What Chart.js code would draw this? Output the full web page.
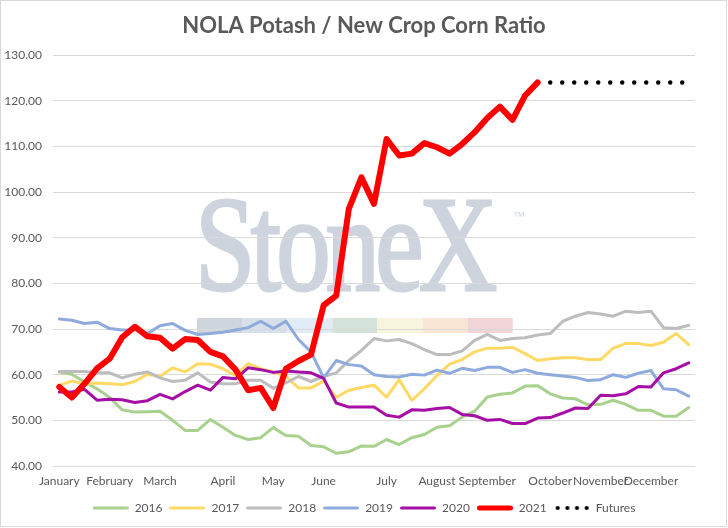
<!DOCTYPE html>
<html>
<head>
<meta charset="utf-8">
<title>NOLA Potash / New Crop Corn Ratio</title>
<script src="https://cdn.jsdelivr.net/npm/chart.js@4.4.1/dist/chart.umd.min.js"></script>
<style>
  html, body { margin: 0; padding: 0; background: #fff; }
</style>
</head>
<body>
<canvas id="chartRatio" width="728" height="528"></canvas>
<script>
// weekly ratio, 51 weeks, month name shown on first week of the month
const monthNames = ["January", "February", "March", "April", "May", "June",
  "July", "August", "September", "October", "November", "December"];
const monthFirstWeek = [0, 4, 8, 13, 17, 21, 26, 30, 34, 39, 43, 47];
const weekCount = 51;

const y2016 = [60.6, 60.1, 58.4, 56.9, 55.0, 52.3, 51.8, 51.9, 52.0, 50.0, 47.8, 47.8, 50.2,
  48.5, 46.7, 45.8, 46.2, 48.4, 46.7, 46.5, 44.5, 44.2, 42.8, 43.1, 44.4, 44.3,
  45.8, 44.7, 46.2, 46.9, 48.5, 48.8, 50.7, 52.0, 55.1, 55.7, 56.0, 57.5, 57.6,
  55.8, 54.9, 54.7, 53.4, 53.5, 54.4, 53.5, 52.2, 52.2, 50.9, 50.9, 52.8];
const y2017 = [57.7, 58.6, 58.0, 58.2, 58.0, 57.8, 58.5, 60.1, 59.6, 61.5, 60.6, 62.4, 62.3,
  61.3, 59.8, 62.4, 61.3, 60.6, 59.6, 57.1, 57.1, 58.6, 55.0, 56.6, 57.2, 57.7,
  55.1, 58.9, 54.4, 56.9, 59.8, 62.3, 63.3, 65.0, 65.8, 65.8, 66.0, 64.6, 63.1,
  63.5, 63.7, 63.7, 63.3, 63.3, 65.8, 66.8, 66.8, 66.4, 67.1, 69.0, 66.6];
const y2018 = [60.7, 60.7, 60.7, 60.4, 60.4, 59.3, 60.1, 60.6, 59.3, 58.5, 58.8, 60.4, 58.4,
  58.0, 58.0, 58.8, 58.8, 57.0, 58.2, 59.6, 58.5, 59.6, 60.4, 63.1, 65.3, 67.9,
  67.4, 67.7, 66.8, 65.5, 64.4, 64.4, 65.2, 67.5, 68.8, 67.5, 67.9, 68.1, 68.7,
  69.0, 71.7, 72.8, 73.6, 73.3, 72.8, 73.9, 73.6, 73.9, 70.3, 70.1, 70.8];
const y2019 = [72.2, 71.9, 71.2, 71.5, 70.1, 69.8, 69.8, 69.0, 70.7, 71.2, 69.7, 68.8, 69.0,
  69.3, 69.8, 70.3, 71.7, 70.1, 71.7, 67.7, 65.0, 59.3, 63.1, 62.2, 61.9, 60.0,
  59.6, 59.5, 60.1, 59.9, 61.0, 60.3, 61.4, 60.9, 61.6, 61.6, 60.5, 61.1, 60.3,
  60.0, 59.7, 59.4, 58.7, 58.9, 60.0, 59.4, 60.3, 60.9, 56.9, 56.7, 55.3];
const y2020 = [56.2, 56.2, 56.8, 54.4, 54.6, 54.5, 53.9, 54.3, 55.7, 54.7, 56.3, 57.7, 56.6,
  59.4, 59.1, 61.5, 61.1, 60.5, 60.8, 60.6, 60.4, 59.2, 53.8, 52.9, 52.9, 52.9,
  51.1, 50.7, 52.3, 52.2, 52.6, 52.8, 51.3, 51.0, 50.0, 50.2, 49.3, 49.3, 50.5,
  50.6, 51.6, 52.7, 52.6, 55.5, 55.4, 55.8, 57.4, 57.3, 60.4, 61.3, 62.6];
const y2021 = [57.3, 55.0, 58.0, 61.4, 63.5, 68.2, 70.5, 68.4, 68.1, 65.7, 67.8, 67.6, 65.0,
  64.0, 61.1, 56.6, 57.1, 52.7, 61.3, 63.0, 64.4, 75.2, 77.3, 96.3, 103.2, 97.4,
  111.6, 108.0, 108.4, 110.7, 109.8, 108.4, 110.5, 113.1, 116.2, 118.7, 115.8, 121.1, 124.0,
  null, null, null, null, null, null, null, null, null, null, null, null];
const yFutures = [null, null, null, null, null, null, null, null, null, null, null, null, null,
  null, null, null, null, null, null, null, null, null, null, null, null, null,
  null, null, null, null, null, null, null, null, null, null, null, null, null,
  124.0, 124.0, 124.0, 124.0, 124.0, 124.0, 124.0, 124.0, 124.0, 124.0, 124.0, 124.0];

const yTicks = [40, 50, 60, 70, 80, 90, 100, 110, 120, 130];

// category labels: month name on its first week, blank otherwise
const weekLabels = [];
for (let i = 0; i < weekCount; i++) {
  const m = monthFirstWeek.indexOf(i);
  weekLabels.push(m >= 0 ? monthNames[m] : "");
}

const txtGray = "#595959";
const gridGray = "#D9D9D9";

// little legend samples (line or dots)
function legendSample(color, width, dotted) {
  const c = document.createElement("canvas");
  c.width = 36;
  c.height = 8;
  const g = c.getContext("2d");
  g.fillStyle = color;
  g.strokeStyle = color;
  if (dotted) {
    [4, 13.7, 23.3, 33].forEach((x) => {
      g.beginPath();
      g.arc(x, 4, 2.1, 0, Math.PI * 2);
      g.fill();
    });
  } else {
    g.lineWidth = width;
    g.lineCap = "round";
    g.beginPath();
    g.moveTo(width / 2, 4);
    g.lineTo(36 - width / 2, 4);
    g.stroke();
  }
  return c;
}

function serie(label, data, color, width, order) {
  return {
    label,
    data,
    borderColor: color,
    backgroundColor: color,
    borderWidth: width,
    pointRadius: 0,
    tension: 0,
    borderJoinStyle: "round",
    borderCapStyle: "round",
    spanGaps: false,
    order,
    sample: legendSample(color, width > 4 ? 5 : 3, false),
  };
}

const datasets = [
  serie("2016", y2016, "#A9D18E", 3, 7),
  serie("2017", y2017, "#FFD966", 3, 6),
  serie("2018", y2018, "#BDBDBD", 3, 5),
  serie("2019", y2019, "#8FAADC", 3, 4),
  serie("2020", y2020, "#A50FA5", 3, 3),
  serie("2021", y2021, "#FF0000", 6, 2),
  {
    label: "Futures",
    data: yFutures,
    borderColor: "#000000",
    backgroundColor: "#000000",
    borderWidth: 4.5,
    borderDash: [0, 12],
    borderCapStyle: "round",
    pointRadius: 0,
    tension: 0,
    order: 1,
    sample: legendSample("#000000", 4, true),
  },
];

// watermark + outer frame
const stonexMark = {
  id: "stonexMark",
  beforeDraw(chart) {
    const ctx = chart.ctx;
    ctx.save();
    ctx.fillStyle = "#ffffff";
    ctx.fillRect(0, 0, chart.width, chart.height);
    const band = ["#CFD5DD", "#D6DFEA", "#E2ECF6", "#D4E3DA", "#F7F5DE", "#F9E6D4", "#F0D4D7"];
    band.forEach((c, i) => {
      ctx.fillStyle = c;
      ctx.fillRect(197 + i * 45.1, 318, 45.1, 15);
    });
    ctx.fillStyle = "#CDD4DE";
    ctx.font = '12px "Liberation Sans"';
    ctx.fillText("\u2122", 513, 217);
    ctx.translate(195, 290);
    ctx.scale(0.8, 1);
    ctx.font = '136px "Liberation Serif"';
    ctx.textBaseline = "alphabetic";
    ctx.letterSpacing = "-6px";
    ctx.lineWidth = 3;
    ctx.strokeStyle = "#CDD4DE";
    ctx.strokeText("StoneX", 0, 0);
    ctx.fillText("StoneX", 0, 0);
    ctx.restore();
  },
  afterDraw(chart) {
    const ctx = chart.ctx;
    ctx.save();
    ctx.strokeStyle = gridGray;
    ctx.lineWidth = 1;
    ctx.strokeRect(0.5, 0.5, 726, 526);
    ctx.restore();
  },
};

new Chart(document.getElementById("chartRatio"), {
  type: "line",
  data: { labels: weekLabels, datasets },
  options: {
    responsive: false,
    devicePixelRatio: 1,
    animation: false,
    events: [],
    layout: { padding: { left: 0, right: 0, top: 0, bottom: 4 } },
    plugins: {
      title: {
        display: true,
        text: "NOLA Potash / New Crop Corn Ratio",
        color: txtGray,
        font: { family: "Lato", size: 22, weight: "bold" },
        padding: { top: 13, bottom: 15.6 },
      },
      legend: {
        position: "bottom",
        labels: {
          usePointStyle: true,
          pointStyleWidth: 36,
          boxHeight: 12,
          padding: 7,
          color: txtGray,
          font: { family: "Lato", size: 12 },
          sort: (a, b) => a.datasetIndex - b.datasetIndex,
          generateLabels(chart) {
            const items = Chart.defaults.plugins.legend.labels.generateLabels(chart);
            items.forEach((it) => {
              it.pointStyle = chart.data.datasets[it.datasetIndex].sample;
            });
            return items;
          },
        },
      },
      tooltip: { enabled: false },
    },
    scales: {
      x: {
        type: "category",
        offset: true,
        grid: { display: false, drawTicks: false },
        border: { display: false },
        ticks: {
          autoSkip: false,
          maxRotation: 0,
          minRotation: 0,
          padding: 8,
          color: txtGray,
          font: { family: "Lato", size: 12 },
        },
        afterFit(s) { s.height = 29; },
      },
      y: {
        min: 40,
        max: 130,
        afterBuildTicks(s) { s.ticks = yTicks.map((v) => ({ value: v })); },
        grid: { color: gridGray, lineWidth: 1, drawTicks: false },
        border: { display: false },
        ticks: {
          padding: 11,
          color: txtGray,
          font: { family: "Lato", size: 12 },
          callback: (v) => Number(v).toFixed(2),
        },
        afterFit(s) { s.width = 53; },
      },
      yRight: {
        position: "right",
        display: true,
        grid: { display: false, drawTicks: false },
        border: { display: false },
        ticks: { display: false },
        afterFit(s) { s.width = 33; },
      },
    },
  },
  plugins: [stonexMark],
});
</script>
</body>
</html>
